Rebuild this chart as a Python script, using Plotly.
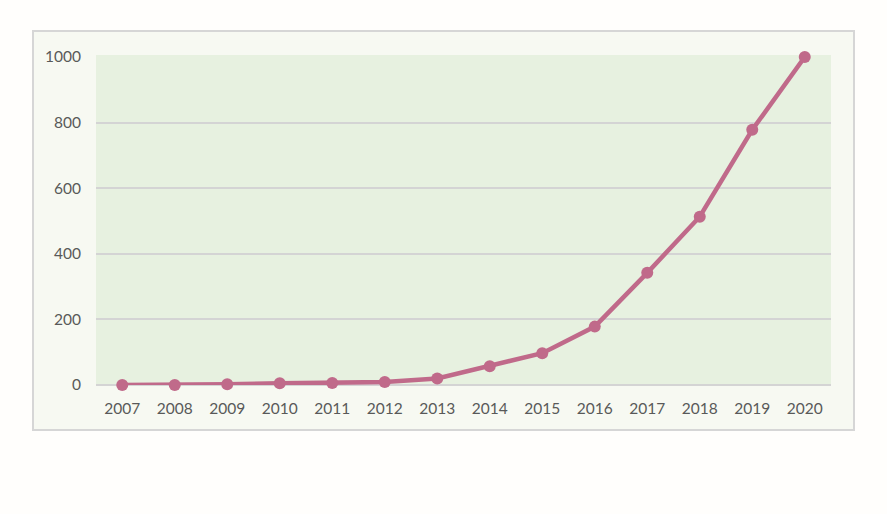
import plotly.graph_objects as go

years = ["2007", "2008", "2009", "2010", "2011", "2012", "2013",
         "2014", "2015", "2016", "2017", "2018", "2019", "2020"]
values = [0, 0, 2, 5, 6, 9, 20, 57, 97, 178, 342, 513, 778, 1000]
y_ticks = [0, 200, 400, 600, 800, 1000]

W, H = 887, 514
L, R, T, B = 96, 887 - 831, 57, 514 - 385
pw, ph = W - L - R, H - T - B

def px_x(p):
    return (p - L) / pw

def px_y(p):
    return (H - B - p) / ph

fig = go.Figure()
fig.add_trace(go.Scatter(
    x=years, y=values, mode="lines+markers",
    line=dict(color="#c06a8a", width=4.5),
    marker=dict(color="#c06a8a", size=12),
    hoverinfo="skip", showlegend=False, cliponaxis=False,
))

fig.update_layout(
    width=W, height=H,
    margin=dict(l=L, r=R, t=T, b=B),
    paper_bgcolor="#fffefc",
    plot_bgcolor="rgba(0,0,0,0)",
    font=dict(family="Lato, Open Sans, sans-serif", size=15.5, color="#595959"),
    shapes=[
        dict(type="rect", xref="paper", yref="paper", layer="below",
             x0=px_x(33), x1=px_x(854), y0=px_y(430), y1=px_y(31),
             fillcolor="#f7f9f2", line=dict(color="#d6d6d6", width=2)),
        dict(type="rect", xref="paper", yref="paper", layer="below",
             x0=0, x1=1, y0=0, y1=px_y(55),
             fillcolor="#e7f1e0", line=dict(width=0)),
    ],
    xaxis=dict(
        type="category", range=[-0.5, len(years) - 0.5],
        showgrid=False, zeroline=False, showline=False,
        ticks="", ticklabelstandoff=12, fixedrange=True,
    ),
    yaxis=dict(
        range=[0, 1000], tickvals=y_ticks,
        showgrid=True, gridcolor="#d4d4d4", gridwidth=2,
        zeroline=True, zerolinecolor="#d4d4d4", zerolinewidth=2,
        showline=False, ticks="", ticklabelstandoff=14, fixedrange=True,
    ),
)

fig.write_html("out.html")
